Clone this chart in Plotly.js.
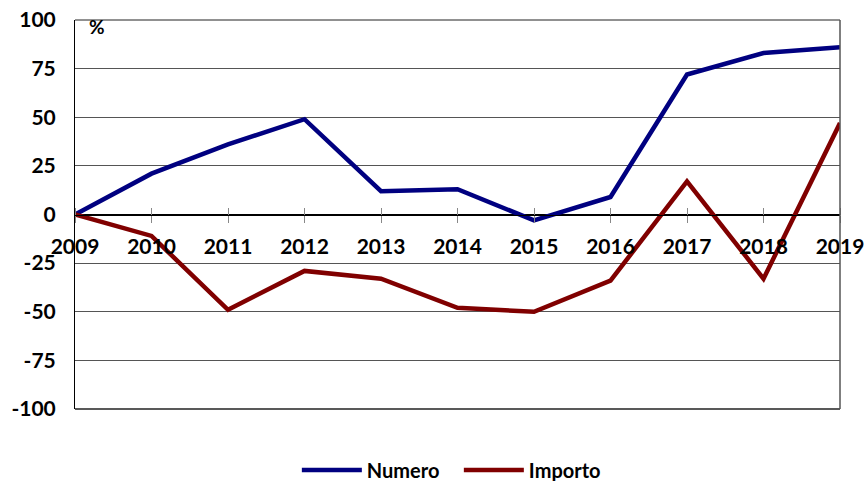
<!DOCTYPE html>
<html>
<head>
<meta charset="utf-8">
<script src="https://cdn.plot.ly/plotly-3.0.1.min.js"></script>
<style>html,body{margin:0;padding:0;background:#fff;}#chart{width:866px;height:481px;}</style>
</head>
<body>
<div id="chart"></div>
<script>
const years = ['2009','2010','2011','2012','2013','2014','2015','2016','2017','2018','2019'];
const numero = [0, 21, 36, 49, 12, 13, -3, 9, 72, 83, 86];
const importo = [0, -11, -49, -29, -33, -48, -50, -34, 17, -33, 47];
const yTicks = [-100, -75, -50, -25, 0, 25, 50, 75, 100];

const fontFam = 'Lato, "Liberation Sans", Arial, sans-serif';

const traces = [
  {x: years, y: numero, name: 'Numero', type: 'scatter', mode: 'lines',
   line: {color: '#000080', width: 4.5}},
  {x: years, y: importo, name: 'Importo', type: 'scatter', mode: 'lines',
   line: {color: '#800000', width: 4.5}}
];

const layout = {
  width: 866, height: 481,
  margin: {l: 75, r: 26, t: 20, b: 72, autoexpand: false},
  paper_bgcolor: '#fff', plot_bgcolor: '#fff',
  font: {family: fontFam, color: '#000'},
  showlegend: true,
  legend: {orientation: 'h', x: 0.290, xanchor: 'left', y: -0.157, yanchor: 'middle',
           font: {family: fontFam, size: 20, weight: 'bold'}, itemwidth: 60,
           entrywidth: 87, entrywidthmode: 'pixels'},
  xaxis: {
    type: 'category', range: [0, 10], anchor: 'free', position: 0.5,
    showline: true, linecolor: '#000', linewidth: 1,
    showgrid: false, zeroline: false,
    ticks: 'outside', ticklen: 7, tickcolor: '#888', tickwidth: 1,
    ticklabelstandoff: 6,
    tickfont: {family: fontFam, size: 21, weight: 'bold'}
  },
  xaxis2: {
    type: 'category', overlaying: 'x', matches: 'x', side: 'top', anchor: 'free', position: 0.5,
    showline: false, showgrid: false, zeroline: false,
    ticks: 'outside', ticklen: 7, tickcolor: '#888', tickwidth: 1,
    showticklabels: false, range: [0, 10]
  },
  yaxis: {
    range: [-100, 100], tickvals: yTicks, ticktext: yTicks.map(String),
    showline: true, linecolor: '#000', linewidth: 1, mirror: false,
    showgrid: true, gridcolor: '#555', gridwidth: 1,
    zeroline: true, zerolinecolor: '#000', zerolinewidth: 1,
    ticks: '', ticklabelstandoff: 14,
    tickfont: {family: fontFam, size: 21, weight: 'bold'}
  },
  shapes: [
    {type: 'line', xref: 'paper', yref: 'paper', x0: 0, x1: 1, y0: 1, y1: 1, line: {color: '#222', width: 1}},
    {type: 'line', xref: 'paper', yref: 'paper', x0: 0, x1: 1, y0: 0, y1: 0, line: {color: '#222', width: 1.5}},
    {type: 'line', xref: 'paper', yref: 'paper', x0: 1, x1: 1, y0: 0, y1: 1, line: {color: '#555', width: 1.5}}
  ],
  annotations: [
    {text: '%', xref: 'paper', yref: 'paper', x: 0.029, y: 0.984, xanchor: 'center', yanchor: 'middle',
     showarrow: false, font: {family: fontFam, size: 19, weight: 'bold'}}
  ]
};

traces.push({x: years, y: years.map(() => null), xaxis: 'x2', showlegend: false, hoverinfo: 'skip', type: 'scatter', mode: 'lines'});

Plotly.newPlot('chart', traces, layout, {displayModeBar: false, staticPlot: true});
</script>
</body>
</html>
